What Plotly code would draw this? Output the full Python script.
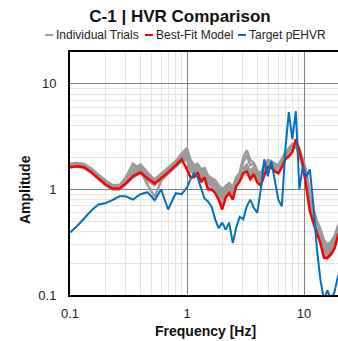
import math
import plotly.graph_objects as go

# ---- data ----
freq = [0.1, 0.115, 0.132, 0.152, 0.175, 0.2, 0.23, 0.265, 0.3, 0.345,
        0.4, 0.46, 0.53, 0.6, 0.69, 0.8, 0.9, 1.0, 1.07, 1.15,
        1.23, 1.32, 1.41, 1.51, 1.62, 1.74, 1.86, 2.0, 2.14, 2.29,
        2.46, 2.63, 2.82, 3.02, 3.24, 3.47, 3.72, 3.98, 4.27, 4.57,
        4.9, 5.25, 5.62, 6.03, 6.46, 6.92, 7.41, 7.94, 8.51, 9.12,
        9.77, 10.47, 11.2, 12.0, 12.9, 13.8, 14.8, 15.8, 17.0, 18.2,
        19.5, 20.9]

best_fit = [1.62, 1.66, 1.62, 1.45, 1.27, 1.12, 1.02, 1.02, 1.14, 1.33,
            1.45, 1.27, 1.14, 1.27, 1.45, 1.69, 1.93, 1.55, 1.30, 1.30,
            1.45, 1.17, 1.30, 1.0, 1.0, 0.92, 0.80, 0.645, 0.84, 0.92,
            0.80, 1.07, 1.19, 1.42, 1.48, 1.25, 1.39, 1.17, 1.09, 1.36,
            1.62, 1.62, 1.48, 1.42, 1.62, 1.93, 2.06, 2.25, 2.99, 2.30,
            1.73, 1.04, 0.62, 0.485, 0.39, 0.31, 0.225, 0.225, 0.245, 0.275,
            0.37, 0.415]

target = [0.39, 0.45, 0.53, 0.63, 0.72, 0.74, 0.79, 0.86, 0.86, 0.80,
          0.90, 0.94, 0.79, 1.0, 0.645, 0.92, 0.90, 1.04, 1.245, 1.42,
          1.30, 1.0, 0.82, 0.77, 0.69, 0.52, 0.43, 0.485, 0.416, 0.485,
          0.31, 0.435, 0.55, 0.52, 0.69, 0.80, 0.67, 0.60, 1.0, 1.93,
          1.33, 1.85, 1.17, 0.80, 0.69, 2.40, 5.4, 2.99, 5.5, 1.0,
          1.66, 1.30, 1.55, 0.72, 0.268, 0.139, 0.09, 0.111, 0.09, 0.107,
          0.15, 0.173]

trial_1 = [1.70, 1.74, 1.70, 1.55, 1.36, 1.20, 1.08, 1.06, 1.20, 1.50,
           1.72, 1.45, 1.22, 1.30, 1.52, 1.80, 2.10, 2.35, 1.75, 1.62,
           1.70, 1.48, 1.55, 1.30, 1.22, 1.18, 1.05, 0.95, 1.02, 1.10,
           1.00, 1.25, 1.40, 1.80, 2.10, 1.70, 1.75, 1.45, 1.38, 1.62,
           1.85, 1.80, 1.70, 1.62, 1.90, 2.15, 2.30, 2.50, 2.70, 2.40,
           1.95, 1.45, 0.90, 0.65, 0.50, 0.42, 0.33, 0.30, 0.32, 0.36,
           0.45, 0.50]
trial_2 = [1.66, 1.70, 1.66, 1.50, 1.30, 1.15, 1.05, 1.05, 1.18, 1.42,
           1.60, 1.35, 1.18, 1.28, 1.48, 1.72, 2.00, 2.10, 1.60, 1.50,
           1.58, 1.35, 1.42, 1.18, 1.15, 1.08, 0.95, 0.85, 0.95, 1.00,
           0.92, 1.15, 1.30, 1.48, 1.60, 1.38, 1.52, 1.35, 1.25, 1.50,
           1.72, 1.70, 1.58, 1.52, 1.75, 2.05, 2.20, 2.40, 2.80, 2.30,
           1.80, 1.25, 0.78, 0.56, 0.44, 0.36, 0.27, 0.25, 0.27, 0.31,
           0.40, 0.45]
trial_3 = [1.68, 1.72, 1.68, 1.52, 1.32, 1.14, 1.04, 1.08, 1.30, 1.75,
           1.55, 1.20, 1.10, 1.35, 1.55, 1.75, 1.95, 2.20, 1.80, 1.55,
           1.50, 1.40, 1.45, 1.25, 1.12, 1.10, 1.00, 0.90, 0.98, 1.05,
           0.95, 1.20, 1.35, 1.50, 1.62, 1.42, 1.55, 1.40, 1.30, 1.55,
           1.80, 1.72, 1.62, 1.58, 1.80, 2.10, 2.35, 2.60, 2.50, 2.20,
           1.85, 1.35, 0.85, 0.60, 0.47, 0.38, 0.30, 0.28, 0.30, 0.34,
           0.42, 0.48]
trial_4 = [1.62, 1.64, 1.60, 1.44, 1.26, 1.10, 1.00, 1.00, 1.12, 1.30,
           1.45, 1.30, 1.15, 1.22, 1.40, 1.62, 1.85, 1.90, 1.50, 1.38,
           1.42, 1.22, 1.30, 1.05, 1.02, 0.98, 0.88, 0.70, 0.88, 0.95,
           0.86, 1.08, 1.22, 1.40, 1.52, 1.30, 1.42, 1.25, 1.18, 1.40,
           1.60, 1.60, 1.50, 1.45, 1.65, 1.95, 2.10, 2.30, 2.90, 2.35,
           1.70, 1.10, 0.68, 0.50, 0.40, 0.32, 0.24, 0.22, 0.24, 0.28,
           0.36, 0.42]
trial_5 = [1.72, 1.76, 1.72, 1.56, 1.35, 1.18, 1.06, 1.04, 1.15, 1.40,
           1.50, 1.10, 0.85, 1.20, 1.50, 1.70, 1.90, 2.05, 1.70, 1.60,
           1.62, 1.45, 1.50, 1.28, 1.20, 1.12, 1.02, 0.92, 1.00, 1.08,
           0.98, 1.22, 1.38, 1.55, 1.68, 1.45, 1.58, 1.42, 1.35, 1.58,
           1.78, 1.75, 1.65, 1.60, 1.85, 2.20, 2.40, 2.45, 2.60, 2.25,
           1.90, 1.40, 0.88, 0.62, 0.48, 0.40, 0.31, 0.28, 0.30, 0.35,
           0.45, 0.52]
trial_6 = [1.75, 1.78, 1.74, 1.58, 1.38, 1.22, 1.10, 1.10, 1.25, 1.62,
           1.68, 1.40, 1.25, 1.40, 1.62, 1.85, 2.20, 2.45, 1.90, 1.70,
           1.75, 1.55, 1.60, 1.35, 1.28, 1.22, 1.10, 1.00, 1.08, 1.15,
           1.05, 1.30, 1.45, 2.00, 2.35, 1.90, 1.80, 1.50, 1.42, 1.68,
           1.90, 1.85, 1.75, 1.70, 1.95, 2.25, 2.45, 2.70, 2.60, 2.10,
           1.60, 1.20, 0.80, 0.58, 0.46, 0.38, 0.30, 0.27, 0.29, 0.33,
           0.43, 0.50]
trial_7 = [1.64, 1.68, 1.64, 1.48, 1.30, 1.14, 1.04, 1.04, 1.16, 1.38,
           1.52, 1.32, 1.18, 1.30, 1.46, 1.66, 1.88, 2.00, 1.65, 1.45,
           1.55, 1.30, 1.38, 1.12, 1.08, 1.02, 0.92, 0.82, 0.92, 0.98,
           0.90, 1.12, 1.28, 1.45, 1.58, 1.35, 1.48, 1.32, 1.22, 1.45,
           1.68, 1.65, 1.55, 1.50, 1.70, 2.00, 2.20, 2.35, 2.75, 2.45,
           1.75, 1.15, 0.72, 0.53, 0.42, 0.34, 0.26, 0.24, 0.26, 0.30,
           0.38, 0.44]
trial_8 = [1.70, 1.72, 1.68, 1.53, 1.34, 1.17, 1.07, 1.06, 1.22, 1.55,
           1.62, 1.38, 1.20, 1.25, 1.45, 1.78, 2.05, 2.25, 1.85, 1.65,
           1.68, 1.50, 1.52, 1.30, 1.18, 1.15, 1.05, 0.96, 1.04, 1.12,
           1.02, 1.28, 1.42, 1.58, 1.72, 1.50, 1.62, 1.48, 1.40, 1.65,
           1.85, 1.78, 1.68, 1.65, 1.88, 2.15, 2.35, 2.55, 2.65, 2.30,
           1.85, 1.30, 0.82, 0.60, 0.46, 0.38, 0.29, 0.26, 0.28, 0.32,
           0.42, 0.48]
trials = [trial_1, trial_2, trial_3, trial_4, trial_5, trial_6, trial_7, trial_8]

x_ticks = [0.1, 1, 10]
x_tick_labels = ["0.1", "1", "10"]
y_ticks = [0.1, 1, 10]
y_tick_labels = ["0.1", "1", "10"]

title_text = "C-1 | HVR Comparison"
legend_names = ["Individual Trials", "Best-Fit Model", "Target pEHVR"]

GRAY = "rgb(155,155,155)"
RED = "rgb(255,0,0)"
BLUE = "rgb(0,112,192)"
FONT = "Liberation Sans"

fig = go.Figure()
for i, tr in enumerate(trials):
    fig.add_trace(go.Scatter(x=freq, y=tr, mode="lines", name=legend_names[0],
                             line=dict(color=GRAY, width=2.5), showlegend=False))
fig.add_trace(go.Scatter(x=freq, y=best_fit, mode="lines", name=legend_names[1],
                         line=dict(color=RED, width=2.5), showlegend=False))
fig.add_trace(go.Scatter(x=freq, y=target, mode="lines", name=legend_names[2],
                         line=dict(color=BLUE, width=2), showlegend=False))

W, H = 338, 341
PL, PT, PB = 70, 52, 295
PW, PH = W - PL, PB - PT

def px(x):
    return (x - PL) / PW

def py(y):
    return (PB - y) / PH

# legend row: short coloured dash + name, like the reference
legend_dash_x = [45, 145, 238]
LEG_Y = 35
for name, col, x0 in zip(legend_names, [GRAY, RED, BLUE], legend_dash_x):
    fig.add_shape(type="line", xref="paper", yref="paper",
                  x0=px(x0), x1=px(x0 + 8), y0=py(LEG_Y), y1=py(LEG_Y),
                  line=dict(color=col, width=2))
    fig.add_annotation(text=name, xref="paper", yref="paper",
                       x=px(x0 + 9), y=py(LEG_Y), xanchor="left", yanchor="middle",
                       showarrow=False, font=dict(family=FONT, size=12, color="#222"))
fig.add_annotation(text="<b>Frequency [Hz]</b>", xref="paper", yref="paper",
                   x=px(205), y=py(331), xanchor="center", yanchor="middle",
                   showarrow=False, font=dict(family=FONT, size=14, color="#111"))
fig.add_annotation(text="<b>Amplitude</b>", xref="paper", yref="paper", textangle=-90,
                   x=px(25), y=py(190), xanchor="center", yanchor="middle",
                   showarrow=False, font=dict(family=FONT, size=14, color="#111"))

fig.update_layout(
    width=W, height=H,
    margin=dict(l=PL, r=0, t=PT, b=H - PB, autoexpand=False),
    paper_bgcolor="white", plot_bgcolor="white",
    title=dict(text="<b>%s</b>" % title_text, x=180 / W, xref="container", xanchor="center",
               y=1 - 16 / H, yref="container", yanchor="middle",
               font=dict(family=FONT, size=17, color="#111")),
    font=dict(family=FONT, size=13, color="#222"),
    showlegend=False,
)
minor_vals = [v * m for v in [0.1, 1, 10] for m in range(2, 10)]
fig.update_xaxes(
    type="log", range=[-1, math.log10(19.5)], automargin=False,
    tickvals=x_ticks, ticktext=x_tick_labels,
    ticks="outside", ticklen=5, tickcolor="rgba(0,0,0,0)",
    showline=True, linecolor="black", linewidth=2, mirror=True,
    showgrid=True, gridcolor="#7f7f7f", gridwidth=1,
    minor=dict(tickvals=minor_vals, showgrid=True, gridcolor="#e4e4e4", gridwidth=1, ticks=""),
    zeroline=False,
)
fig.update_yaxes(
    type="log", range=[-1, math.log10(20)], automargin=False,
    tickvals=y_ticks, ticktext=y_tick_labels,
    ticks="outside", ticklen=9, tickcolor="rgba(0,0,0,0)",
    showline=True, linecolor="black", linewidth=2, mirror=False,
    showgrid=True, gridcolor="#7f7f7f", gridwidth=1,
    minor=dict(tickvals=minor_vals, showgrid=True, gridcolor="#e4e4e4", gridwidth=1, ticks=""),
    zeroline=False,
)

fig.write_html("out.html", config={"displayModeBar": False},
               post_script="document.body.style.margin='0';document.body.style.overflow='hidden';")
